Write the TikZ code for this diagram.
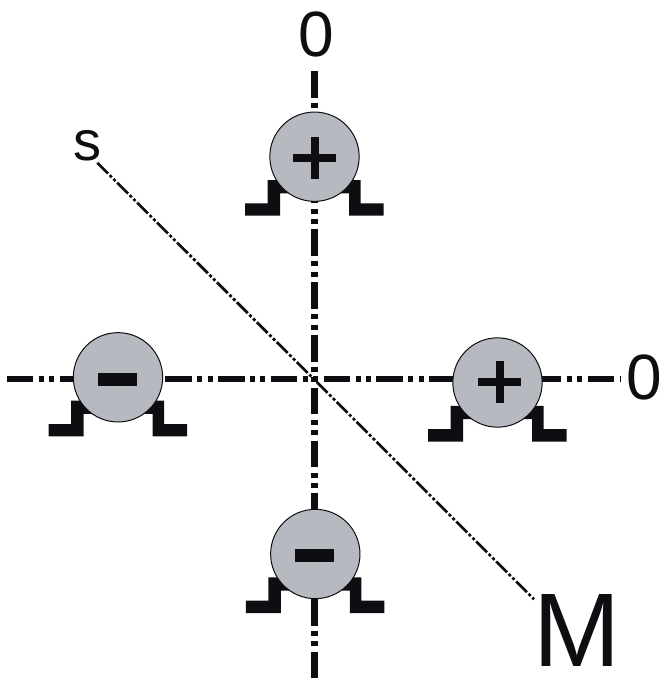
\documentclass[tikz,border=0pt]{standalone}
\usepackage{fontspec}
\setmainfont{Liberation Sans}
\definecolor{ink}{HTML}{0E0E12}
\definecolor{bodygrey}{HTML}{B7B9C0}
\tikzset{
  x=0.75pt,y=-0.75pt,
  axisline/.style={draw=ink,line width=4.6pt,dash pattern=on 20pt off 4pt on 3.8pt off 4pt on 3.8pt off 4pt},
  diagline/.style={draw=ink,line width=2pt,dash pattern=on 11.5pt off 1.75pt on 2.2pt off 1.75pt on 2.2pt off 1.75pt},
  bodycirc/.style={circle,draw=ink,line width=0.75pt,fill=bodygrey,minimum size=67pt,inner sep=0pt},
  footshape/.style={fill=ink,draw=none},
  signbar/.style={fill=ink,draw=none},
  lbl/.style={inner sep=0pt,text=ink,anchor=base},
  pics/feet/.style={code={
    \path[footshape] (-69.5,59) -- (-69.5,46.7) -- (-47,46.7) -- (-47,23.3) -- (-25,23.3) -- (-25,36.6) -- (-34.5,36.6) -- (-34.5,59) -- cycle;
    \path[footshape] (69,59) -- (69,46.7) -- (46,46.7) -- (46,23.3) -- (25,23.3) -- (25,36.6) -- (34.5,36.6) -- (34.5,59) -- cycle;
  }},
  pics/plussign/.style={code={
    \path[signbar] (-21.2,-4) rectangle (21.2,4);
    \path[signbar] (-4,-21) rectangle (4,21);
  }},
  pics/minussign/.style={code={
    \path[signbar] (-19.5,-6.4) rectangle (19.5,6.4);
  }}
}
\begin{document}
\begin{tikzpicture}
\useasboundingbox (0,0) rectangle (662,683);
\coordinate (hs) at (6.7,379.3);
\coordinate (he) at (620,379.3);
\coordinate (vs) at (314.5,71);
\coordinate (ve) at (314.5,683);
\coordinate (ds) at (97.3,162.7);
\coordinate (de) at (534,599.3);
\draw[axisline] (hs) -- (he);
\draw[axisline] (vs) -- (ve);
\draw[diagline] (ds) -- (de);
\pic at (314.5,156.7) {feet};
\pic at (118,377.3) {feet};
\pic at (497.5,382.5) {feet};
\pic at (315.3,554) {feet};
\node[bodycirc] (top) at (314.5,156.7) {};
\node[bodycirc] (lft) at (118,377.3) {};
\node[bodycirc] (rgt) at (497.5,382.5) {};
\node[bodycirc] (bot) at (315.3,554) {};
\pic at (314.5,157.5) {plussign};
\pic at (499.5,381.7) {plussign};
\pic at (117.5,379.3) {minussign};
\pic at (314.5,555.3) {minussign};
\node[lbl,font=\fontsize{48}{48}\selectfont] (z1) at (316,56.5) {0};
\node[lbl,font=\fontsize{48}{48}\selectfont] (z2) at (644.5,399.5) {0};
\node[lbl,font=\fontsize{42}{42}\selectfont] (s) at (88,160) {s};
\node[lbl,font=\fontsize{78.5}{78.5}\selectfont] (m) at (577.5,666.7) {M};
\end{tikzpicture}
\end{document}
